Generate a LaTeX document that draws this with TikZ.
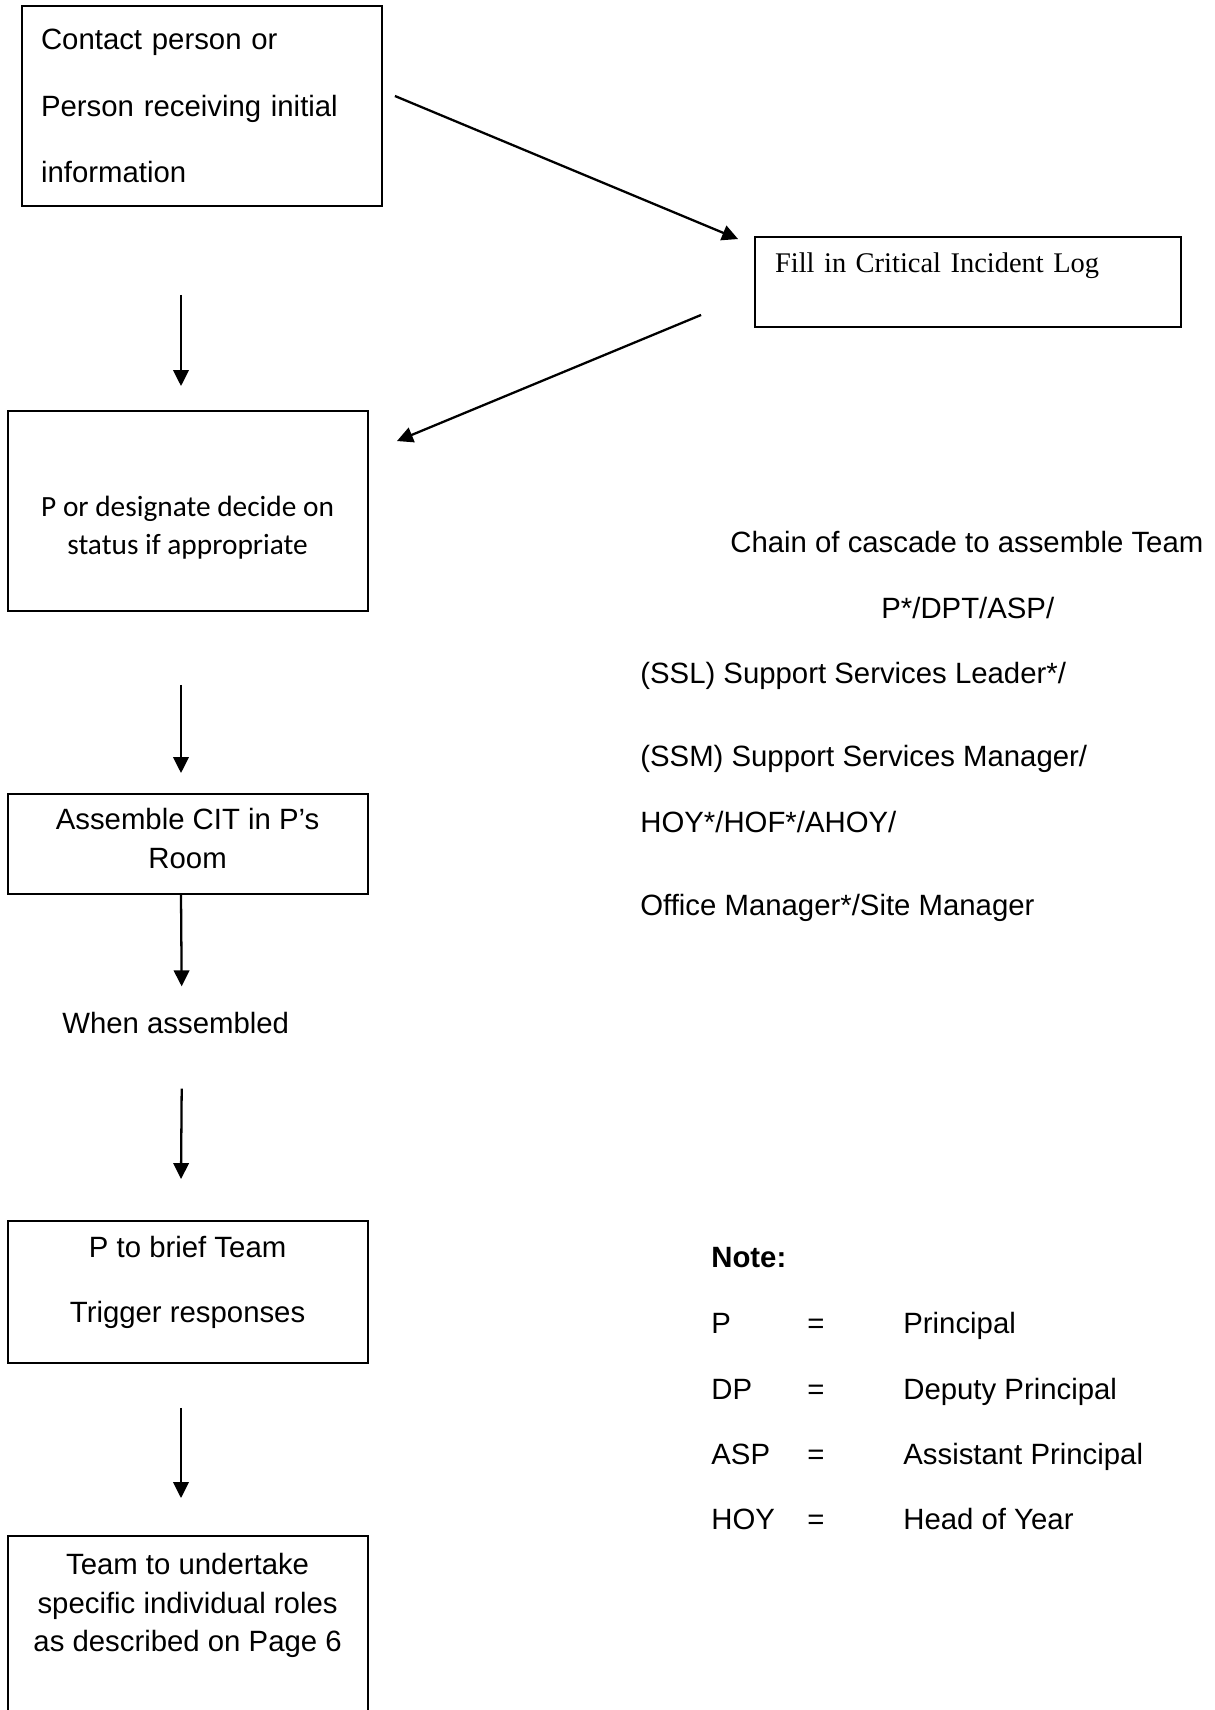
\documentclass[tikz,border=0pt]{standalone}
\usepackage{fontspec}
\setmainfont{Liberation Sans}
\newfontfamily\logfont{Liberation Serif}
\newfontfamily\decidefont{Carlito}
\usetikzlibrary{arrows.meta,calc,positioning}

\begin{document}
\begin{tikzpicture}[
    % GLOBAL CFG
    x=0.02cm, y=-0.02cm,
    font=\fontsize{16.7}{22}\selectfont,
    >={Triangle[length=0.32cm, width=0.31cm]},
    % Styles
    box/.style={% For the boxes on the left
        rectangle,
        draw,
        line width=1.1pt,
        minimum width=7.2cm,
        align=center,
        },
    logbox/.style={% For the log box on the right
        rectangle,
        draw,
        line width=1.1pt,
        minimum width=8.52cm,
        minimum height=1.8cm,
        text width=7.72cm,
        align=left,
        font=\logfont\fontsize{16.2}{22}\selectfont,
        },
    txt/.style={% For loose text
        inner sep=0pt,
        anchor=base west,
        },
    ArrowC1/.style={% Arrows
        ->,
        line width=1.3pt,
        },
    ]

\useasboundingbox (0,0) rectangle (1214,1710);

%Start drawing the thing...
    % The boxes on the left
    \node[box, minimum height=4cm, text width=6.44cm, align=left] (contact) at (202,106) {Contact person or\\[0.56cm]Person receiving initial\\[0.56cm]information};
    \node[logbox] (log) at (968,282) {Fill in Critical Incident Log\\ \mbox{}};
    \node[box, minimum height=4cm, text height=1.85cm, font=\decidefont\fontsize{16.7}{22}\selectfont] (decide) at (187.6,511) {P or designate decide on\\status if appropriate};
    \node[box, minimum height=2cm, text height=0.98cm] (assemble) at (187.6,844) {Assemble CIT in P’s\\Room};
    \node[txt] (when) at (62,1033.5) {When assembled};
    \node[box, minimum height=2.84cm, text height=1.33cm] (brief) at (187.6,1292) {P to brief Team\\[0.52cm]Trigger responses};
    \node[box, minimum height=4.2cm] (roles) at (187.6,1641) {Team to undertake\\specific individual roles\\as described on Page 6\\ \mbox{}\\ \mbox{}};

    % Chain of cascade
    \node[txt] (chain) at (730,552.5) {Chain of cascade to assemble Team};
    \node[txt] (chainp) at (881,618) {P*/DPT/ASP/};
    \node[txt] (ssl) at (640,683.5) {(SSL) Support Services Leader*/};
    \node[txt] (ssm) at (640,766.5) {(SSM) Support Services Manager/};
    \node[txt] (hoy) at (640,832.5) {HOY*/HOF*/AHOY/};
    \node[txt] (office) at (640,915.5) {Office Manager*/Site Manager};

    % Note
    \node[txt] (note) at (711,1267) {\bfseries Note:};
    \node[txt] (p) at (711,1333.5) {P};
    \node[txt] (peq) at (807,1333.5) {=};
    \node[txt] (pfull) at (903,1333.5) {Principal};
    \node[txt] (dp) at (711,1399) {DP};
    \node[txt] (dpeq) at (807,1399) {=};
    \node[txt] (dpfull) at (903,1399) {Deputy Principal};
    \node[txt] (asp) at (711,1464.5) {ASP};
    \node[txt] (aspeq) at (807,1464.5) {=};
    \node[txt] (aspfull) at (903,1464.5) {Assistant Principal};
    \node[txt] (hoyn) at (711,1529.5) {HOY};
    \node[txt] (hoyeq) at (807,1529.5) {=};
    \node[txt] (hoyfull) at (903,1529.5) {Head of Year};

% Start connecting all.
    \draw[ArrowC1] ($(contact.south)+(-21,88)$) -- ($(decide.north)+(-6.6,-24)$);
    \draw[ArrowC1] ($(contact.east)+(12,-10)$) -- ($(log.north west)+(-16,3)$);
    \draw[ArrowC1] ($(log.south west)+(-53,-13)$) -- ($(decide.north east)+(28.4,31)$);
    \draw[ArrowC1] ($(decide.south)+(-6.6,73)$) -- ($(assemble.north)+(-6.6,-20)$);
    \draw[ArrowC1] ($(assemble.south)+(-6.6,0)$) -- ($(when.north)+(6,-25.5)$);
    \draw[ArrowC1] ($(when.south)+(6,54.5)$) -- ($(brief.north)+(-6.6,-41)$);
    \draw[ArrowC1] ($(brief.south)+(-6.6,44)$) -- ($(roles.north)+(-6.6,-37)$);
\end{tikzpicture}
\end{document}
